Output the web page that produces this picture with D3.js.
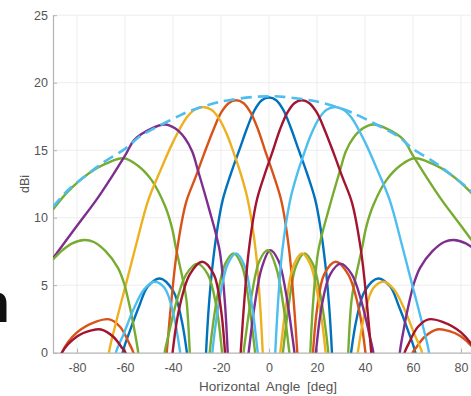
<!DOCTYPE html>
<html>
<head>
<meta charset="utf-8">
<script src="https://cdn.jsdelivr.net/npm/d3@7"></script>
<style>
  body { margin: 0; background: #fff; }
  svg { display: block; font-family: "Liberation Sans", Arial, sans-serif; }
</style>
</head>
<body>
<svg id="chart" width="471" height="396"></svg>
<script>
const xTicks = [-80, -60, -40, -20, 0, 20, 40, 60, 80];
const yTicks = [0, 5, 10, 15, 20, 25];

// dashed envelope
const envelope = [[-90,10.8],[-84,12.0],[-75,13.3],[-69,14.1],[-60,15.1],[-54,16.0],[-48,16.6],[-38,17.5],[-33,17.9],[-20,18.6],[-6,18.95],[0,19.0],[6,18.95],[20,18.6],[33,17.9],[38,17.5],[48,16.6],[54,16.0],[60,15.1],[69,14.1],[75,13.3],[84,12.0],[90,10.8]];

// beam 0 deg (blue)
const blueMain = [[-26.6,-1.5],[-26,0.8],[-25,3.6],[-23.5,6.5],[-21.5,9.2],[-19.3,11.3],[-16,13.2],[-12.4,15.0],[-9,16.7],[-5.9,18.0],[-3,18.7],[0,18.9],[3,18.7],[5.9,18.0],[9,16.7],[12.4,15.0],[16,13.2],[19.3,11.3],[21.5,9.2],[23.5,6.5],[25,3.6],[26,0.8],[26.6,-1.5]];
const blueSideL = [[-62,-1.5],[-61,0],[-58,1.6],[-54,3.5],[-50.5,4.9],[-45.5,5.5],[-40,4.6],[-36.5,2.5],[-34.2,0],[-33,-2]];
const blueSideR = [[33,-2],[34.2,0],[36.5,2.5],[40,4.6],[45.5,5.5],[50.5,4.9],[54,3.5],[58,1.6],[61,0],[62,-1.5]];

// beam -14 deg (orange)
const orangeMain = [[-44,-3],[-42.6,0],[-40.7,3.8],[-38.3,7.6],[-34.6,11.1],[-30.6,13.0],[-26.9,14.8],[-23.2,16.5],[-19.9,17.8],[-16.7,18.5],[-13.7,18.7],[-10.7,18.5],[-7.7,17.8],[-4.5,16.5],[-1.3,14.8],[2,13.1],[5.2,11.2],[8.4,7.6],[10.3,3.8],[11.8,0],[12.8,-3]];
const orangeSideR = [[17.5,-2],[18.3,0],[20,3.2],[23,5.8],[27.8,6.74],[33,5.8],[37.5,3.2],[40.2,0],[41.5,-2]];
const orangeSideL = [[-88,-1.5],[-86.3,0],[-80,1.5],[-72,2.3],[-66.5,2.47],[-62,1.9],[-58,0.6],[-56.5,0],[-55.5,-1.2]];
const orangeSideR2 = [[59,-1],[59.8,0],[61,0.3],[65,1.2],[70,1.72],[74,1.65],[80,1.2],[86.3,0],[88,-1.2]];

// beam +14 deg (dark red)
const darkredMain = [[-12.8,-3],[-11.8,0],[-10.3,3.8],[-8.4,7.6],[-5.2,11.2],[-2,13.1],[1.3,14.8],[4.5,16.5],[7.7,17.8],[10.7,18.5],[13.7,18.7],[16.7,18.5],[19.9,17.8],[23.2,16.5],[26.9,14.8],[30.6,13.0],[34.6,11.1],[38.3,7.6],[40.7,3.8],[42.6,0],[44,-3]];
const darkredSideL = [[-41.5,-2],[-40.2,0],[-37.5,3.2],[-33,5.8],[-27.8,6.74],[-23,5.8],[-20,3.2],[-18.3,0],[-17.5,-2]];
const darkredSideR = [[55.5,-1.2],[56.5,0],[58,0.6],[62,1.9],[66.5,2.47],[72,2.3],[80,1.5],[86.3,0],[88,-1.5]];
const darkredSideL2 = [[-88,-1.2],[-86.3,0],[-80,1.2],[-74,1.65],[-70,1.72],[-65,1.2],[-61,0.3],[-59.8,0],[-59,-1]];

// beam -28 deg (yellow)
const yellowMain = [[-68.5,-3],[-66.7,0],[-63.5,2.4],[-60,4.8],[-55.5,7.9],[-50.3,11.3],[-45,13.6],[-40,15.6],[-34.4,17.4],[-31,18.0],[-27.5,18.2],[-24,18.0],[-21,17.4],[-17.6,16.2],[-14.3,14.6],[-11.5,13.1],[-8.8,11.3],[-5.5,7.5],[-3.8,3.8],[-2.6,0],[-1.8,-3]];
const yellowSide1 = [[3.6,-2],[4.7,0],[7.1,3.5],[10.1,6.4],[13.7,7.36],[17.1,6.6],[20.1,4.5],[22.6,1.6],[23.6,0],[24.6,-2]];
const yellowSide2 = [[36,-1.5],[37,0],[40,3],[43.5,4.8],[47.8,5.26],[52,4.7],[56.5,3.2],[60.5,1.4],[63.8,0],[65,-1.5]];

// beam +28 deg (light blue)
const lightblueMain = [[1.8,-3],[2.6,0],[3.8,3.8],[5.5,7.5],[8.8,11.3],[11.5,13.1],[14.3,14.6],[17.6,16.2],[21,17.4],[24,18.0],[27.5,18.2],[31,18.0],[34.4,17.4],[40,15.6],[45,13.6],[50.3,11.3],[55.5,7.9],[60,4.8],[63.5,2.4],[66.7,0],[68.5,-3]];
const lightblueSide1 = [[-24.6,-2],[-23.6,0],[-22.6,1.6],[-20.1,4.5],[-17.1,6.6],[-13.7,7.36],[-10.1,6.4],[-7.1,3.5],[-4.7,0],[-3.6,-2]];
const lightblueSide2 = [[-65,-1.5],[-63.8,0],[-60.5,1.4],[-56.5,3.2],[-52,4.7],[-47.8,5.26],[-43.5,4.8],[-40,3],[-37,0],[-36,-1.5]];

// beam -43 deg (purple)
const purpleMain = [[-90,7.0],[-80,9.4],[-72,11.3],[-66,12.9],[-60,14.6],[-55.9,15.8],[-49,16.6],[-43.4,16.9],[-39,16.6],[-35.1,15.9],[-32,14.9],[-29.6,13.5],[-25.2,10.8],[-20.6,7.6],[-18.5,4],[-17.2,0],[-16.5,-3]];
const purpleSide1 = [[-10,-2],[-8.5,0],[-6,3.5],[-3,6.3],[0.5,7.6],[4,6.8],[7,4.5],[9.5,1.5],[10.6,0],[11.5,-2]];
const purpleSide2 = [[18.5,-1.5],[19.5,0],[22,3.5],[25.5,5.8],[29.9,6.6],[34.5,5.8],[38.5,3.8],[42,1.2],[43.5,0],[44.5,-1.5]];
const purpleGrating = [[54,-1.5],[54.5,0],[56,1.6],[58,3.4],[60.5,5.2],[63,6.3],[68,7.5],[73,8.2],[77,8.35],[82,8.1],[86,7.6],[90,6.9]];

// beam +43 deg (green)
const greenMain = [[16.5,-3],[17.2,0],[18.5,4],[20.6,7.6],[25.2,10.8],[29.6,13.5],[32,14.9],[35.1,15.9],[39,16.6],[43.4,16.9],[49,16.6],[55.9,15.8],[60,14.6],[66,12.9],[72,11.3],[80,9.4],[90,7.0]];
const greenSide1 = [[-11.5,-2],[-10.6,0],[-9.5,1.5],[-7,4.5],[-4,6.8],[-0.5,7.6],[3,6.3],[6,3.5],[8.5,0],[10,-2]];
const greenSide2 = [[-44.5,-1.5],[-43.5,0],[-42,1.2],[-38.5,3.8],[-34.5,5.8],[-29.9,6.6],[-25.5,5.8],[-22,3.5],[-19.5,0],[-18.5,-1.5]];
const greenGrating = [[-90,6.9],[-86,7.6],[-82,8.1],[-77,8.35],[-73,8.2],[-68,7.5],[-63,6.3],[-60.5,5.2],[-58,3.4],[-56,1.6],[-54.5,0],[-54,-1.5]];

// outer beams (green)
const greenOuterL = [[-90,10.6],[-84,11.9],[-75,13.3],[-68,14.0],[-60.6,14.4],[-55,13.9],[-49,12.8],[-43.4,10.9],[-40.5,9.3],[-38.6,7.6],[-36,5.5],[-34.4,3.9],[-33,0],[-32.3,-3]];
const greenOuterR = [[32.3,-3],[33,0],[34.4,3.9],[36,5.5],[38.6,7.6],[40.5,9.3],[43.4,10.9],[49,12.8],[55,13.9],[60.6,14.4],[68,14.0],[75,13.3],[84,11.9],[90,10.6]];
const greenOuterSideL = [[-25.7,-2],[-24.7,0],[-23.7,1.6],[-21.2,4.5],[-18.2,6.6],[-14.8,7.36],[-11.2,6.4],[-8.2,3.5],[-5.8,0],[-4.7,-2]];
const greenOuterSideR = [[4.7,-2],[5.8,0],[8.2,3.5],[11.2,6.4],[14.8,7.36],[18.2,6.6],[21.2,4.5],[23.7,1.6],[24.7,0],[25.7,-2]];

const colors = {
  blue: "#0072BD", orange: "#D95319", yellow: "#EDB120", purple: "#7E2F8E",
  green: "#77AC30", lightblue: "#4DBEEE", darkred: "#A2142F"
};

const lobes = [
  [greenOuterL, colors.green], [greenOuterR, colors.green],
  [greenOuterSideL, colors.green], [greenOuterSideR, colors.green],
  [blueMain, colors.blue], [blueSideL, colors.blue], [blueSideR, colors.blue],
  [orangeMain, colors.orange], [orangeSideR, colors.orange], [orangeSideL, colors.orange], [orangeSideR2, colors.orange],
  [yellowMain, colors.yellow], [yellowSide1, colors.yellow], [yellowSide2, colors.yellow],
  [purpleMain, colors.purple], [purpleSide1, colors.purple], [purpleSide2, colors.purple], [purpleGrating, colors.purple],
  [greenMain, colors.green], [greenSide1, colors.green], [greenSide2, colors.green], [greenGrating, colors.green],
  [lightblueMain, colors.lightblue], [lightblueSide1, colors.lightblue], [lightblueSide2, colors.lightblue],
  [darkredMain, colors.darkred], [darkredSideL, colors.darkred], [darkredSideR, colors.darkred], [darkredSideL2, colors.darkred]
];

const svg = d3.select("#chart");
const plotLeft = 53, plotRight = 485, plotTop = 15.2, plotBottom = 352.7;

const x = d3.scaleLinear().domain([-90, 90]).range([plotLeft, plotRight]);
const y = d3.scaleLinear().domain([0, 25]).range([plotBottom, plotTop]);

svg.append("defs").append("clipPath").attr("id", "plot")
  .append("rect").attr("x", plotLeft).attr("y", plotTop)
  .attr("width", plotRight - plotLeft).attr("height", plotBottom - plotTop);

// grid
const grid = svg.append("g");
grid.selectAll(".gx").data(xTicks).join("line")
  .attr("x1", d => x(d)).attr("x2", d => x(d)).attr("y1", plotTop).attr("y2", plotBottom)
  .attr("stroke", "#ededed").attr("stroke-width", 1);
grid.selectAll(".gy").data(yTicks.slice(1)).join("line")
  .attr("x1", plotLeft).attr("x2", plotRight).attr("y1", d => y(d)).attr("y2", d => y(d))
  .attr("stroke", "#ededed").attr("stroke-width", 1);

// axes (plain hyphen for negatives, like the original)
const fmt = d => String(d);
const xAxis = d3.axisBottom(x).tickValues(xTicks).tickFormat(fmt).tickSizeInner(-4).tickSizeOuter(0).tickPadding(10);
const yAxis = d3.axisLeft(y).tickValues(yTicks).tickFormat(fmt).tickSizeInner(-4).tickSizeOuter(0).tickPadding(5);

const gx = svg.append("g").attr("transform", `translate(0,${plotBottom})`).call(xAxis);
const gy = svg.append("g").attr("transform", `translate(${plotLeft},0)`).call(yAxis);
[gx, gy].forEach(g => {
  g.select(".domain").attr("stroke", "#b3b3b3").attr("stroke-width", 1.2);
  g.selectAll(".tick line").attr("stroke", "#b3b3b3");
  g.selectAll(".tick text").attr("fill", "#555").attr("font-size", 12.5)
    .attr("font-family", "Liberation Sans, Arial, sans-serif");
});

// curves
const line = d3.line()
  .x(d => x(d[0]))
  .y(d => y(d[1]))
  .curve(d3.curveCatmullRom.alpha(0.5));

const plot = svg.append("g").attr("clip-path", "url(#plot)");
plot.selectAll(".lobe").data(lobes).join("path")
  .attr("class", "lobe")
  .attr("d", d => line(d[0]))
  .attr("fill", "none")
  .attr("stroke", d => d[1])
  .attr("stroke-width", 2.4);

plot.append("path")
  .datum(envelope)
  .attr("d", line)
  .attr("fill", "none")
  .attr("stroke", colors.lightblue)
  .attr("stroke-width", 2.6)
  .attr("stroke-dasharray", "11,6");

// labels
svg.append("text")
  .attr("x", 268).attr("y", 391)
  .attr("text-anchor", "middle")
  .attr("fill", "#555").attr("font-size", 13.5)
  .attr("word-spacing", 3)
  .text("Horizontal Angle [deg]");

svg.append("text")
  .attr("transform", "translate(29,184) rotate(-90)")
  .attr("text-anchor", "middle")
  .attr("fill", "#555").attr("font-size", 12.5)
  .text("dBi");

// fragment of slide text at the left edge
svg.append("text")
  .attr("x", 10).attr("y", 322)
  .attr("text-anchor", "end")
  .attr("fill", "#111").attr("font-size", 56).attr("font-weight", "bold")
  .text("n");
</script>
</body>
</html>
